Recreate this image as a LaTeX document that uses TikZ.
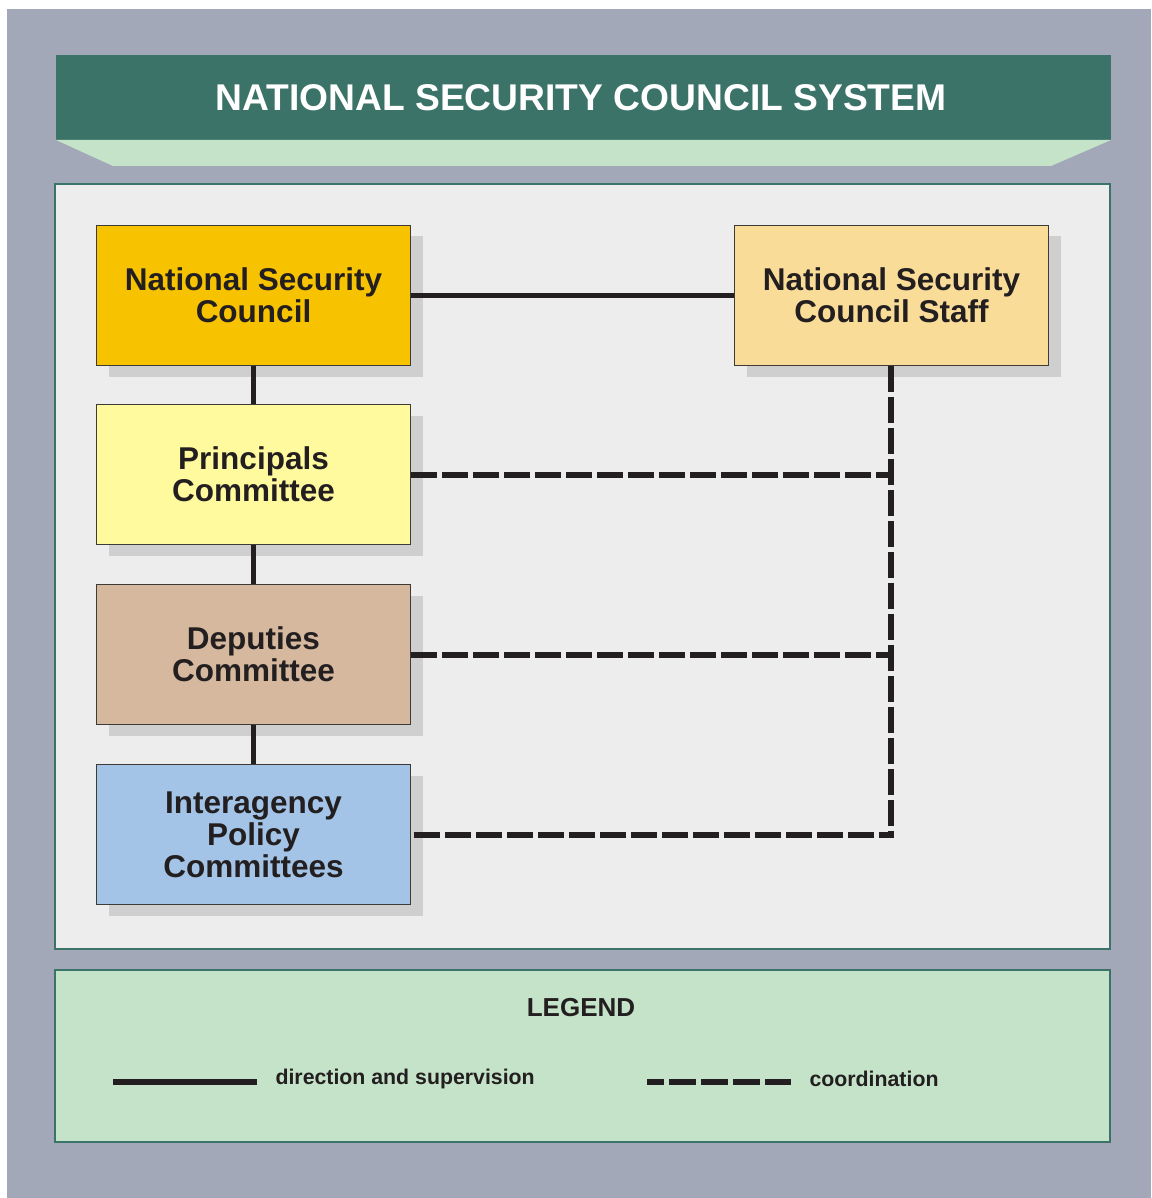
\documentclass[tikz,border=0pt]{standalone}
\usepackage{fontspec}
\setmainfont{Liberation Sans}
\usetikzlibrary{shadows}
\definecolor{bggray}{HTML}{A2A8B7}
\definecolor{headteal}{HTML}{3C7369}
\definecolor{lightgreen}{HTML}{C5E3C8}
\definecolor{panelgray}{HTML}{EDEDED}
\definecolor{shadowgray}{HTML}{CFCFCF}
\definecolor{nscyellow}{HTML}{F7C300}
\definecolor{pcyellow}{HTML}{FFFA9E}
\definecolor{dctan}{HTML}{D5B89D}
\definecolor{ipcblue}{HTML}{A3C4E6}
\definecolor{staffbeige}{HTML}{F9DC98}
\definecolor{inkdark}{HTML}{231F20}
\definecolor{boxedge}{HTML}{3E3A36}
\tikzset{
  orgbox/.style={draw=boxedge, line width=1pt, minimum width=314pt, minimum height=140pt,
    anchor=north west, align=center, text=inkdark,
    font=\fontsize{31.5}{32}\selectfont\bfseries,
    drop shadow={shadow xshift=12pt, shadow yshift=-11pt, fill=shadowgray, opacity=1}},
  solidline/.style={draw=inkdark, line width=4.5pt},
  dashline/.style={draw=inkdark, line width=6pt, dash pattern=on 26pt off 5pt},
  legtext/.style={text=inkdark, font=\fontsize{21.3}{24}\selectfont\bfseries, anchor=west}
}
\begin{document}
\begin{tikzpicture}[x=1pt,y=-1pt]
\useasboundingbox (0,0) rectangle (1151,1198);
\fill[white] (0,0) rectangle (1151,1198);
\fill[bggray] (7,9) rectangle (1151,1198);
% header
\fill[headteal] (56,55) rectangle (1111,140);
\fill[lightgreen] (56,140) -- (1111,140) -- (1051,166) -- (113,166) -- cycle;
\node[text=white, font=\fontsize{37.2}{44}\selectfont\bfseries] (title) at (581,98) {NATIONAL SECURITY COUNCIL SYSTEM};
% panels
\draw[headteal, line width=2.5pt, fill=panelgray] (55,184) rectangle (1110,949);
\draw[headteal, line width=2.5pt, fill=lightgreen] (55,970) rectangle (1110,1142);
% boxes
\node[orgbox, fill=nscyellow] (nsc) at (96,225) {National Security\\Council};
\node[orgbox, fill=pcyellow] (pc) at (96,404) {Principals\\Committee};
\node[orgbox, fill=dctan] (dc) at (96,584) {Deputies\\Committee};
\node[orgbox, fill=ipcblue] (ipc) at (96,764) {Interagency\\Policy\\Committees};
\node[orgbox, fill=staffbeige] (staff) at (734,225) {National Security\\Council Staff};
% direction lines
\draw[solidline] (nsc.east) -- (staff.west);
\draw[solidline] (nsc.south) -- (pc.north);
\draw[solidline] (pc.south) -- (dc.north);
\draw[solidline] (dc.south) -- (ipc.north);
% coordination lines
\coordinate (corner) at ([xshift=-1pt]staff.south |- ipc.east);
\draw[dashline] ([xshift=-1pt]staff.south) -- ([yshift=3pt]corner);
\draw[dashline] (pc.east) -- ([xshift=-1pt]pc.east -| staff.south);
\draw[dashline] (dc.east) -- ([xshift=-1pt]dc.east -| staff.south);
\draw[dashline] ([xshift=3pt]ipc.east) -- ([xshift=3pt]corner);
% legend
\node[text=inkdark, font=\fontsize{26}{30}\selectfont\bfseries] (legend) at (581,1008) {LEGEND};
\coordinate (ls1) at (113,1082);
\coordinate (ls2) at (257,1082);
\draw[draw=inkdark, line width=6pt] (ls1) -- (ls2);
\node[legtext] (ltxt1) at (272,1079) {direction and supervision};
\coordinate (ld1) at (647,1082);
\coordinate (ld2) at (791,1082);
\draw[draw=inkdark, line width=6pt, dash pattern=on 17pt off 5pt on 27pt off 5pt on 27pt off 5pt on 27pt off 5pt on 27pt off 5pt] (ld1) -- (ld2);
\node[legtext] (ltxt2) at (806,1079) {coordination};
\end{tikzpicture}
\end{document}
